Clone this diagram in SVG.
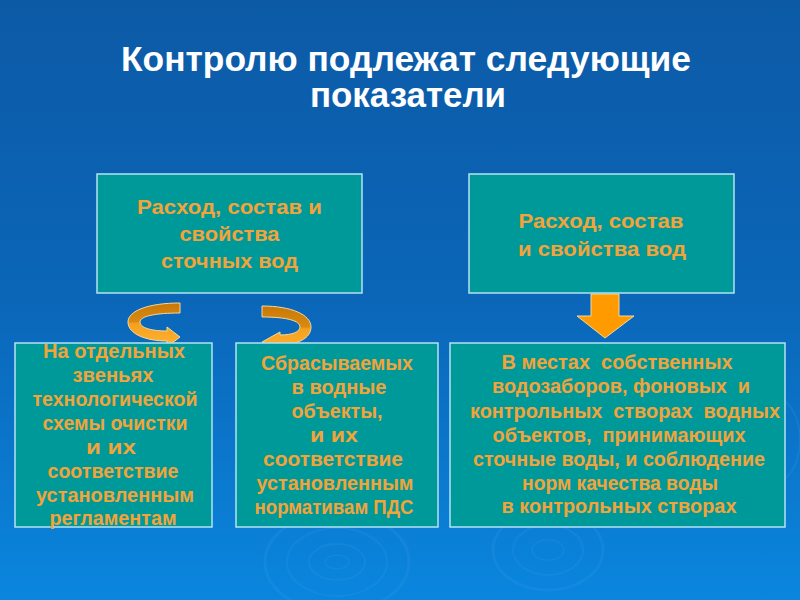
<svg xmlns="http://www.w3.org/2000/svg" width="800" height="600" viewBox="0 0 800 600">
<defs>
<linearGradient id="bg" x1="0" y1="0" x2="0" y2="1">
<stop offset="0" stop-color="#0C5AA6"/>
<stop offset="0.5" stop-color="#0B66B8"/>
<stop offset="1" stop-color="#0A86DE"/>
</linearGradient>
<linearGradient id="cl" gradientUnits="userSpaceOnUse" x1="0" y1="303" x2="0" y2="347">
<stop offset="0" stop-color="#C97806"/>
<stop offset="0.42" stop-color="#D98A12"/>
<stop offset="0.47" stop-color="#F5A11E"/>
<stop offset="1" stop-color="#FFB232"/>
</linearGradient>
<linearGradient id="cr" gradientUnits="userSpaceOnUse" x1="0" y1="306" x2="0" y2="352">
<stop offset="0" stop-color="#C97806"/>
<stop offset="0.45" stop-color="#D98A12"/>
<stop offset="0.5" stop-color="#F5A11E"/>
<stop offset="1" stop-color="#FFB232"/>
</linearGradient>
<style>
.box{fill:#009999;stroke:#B4E2F2;stroke-width:1.5}
.t{font-family:"Liberation Sans",Arial,sans-serif;font-weight:bold;fill:#F2A33A;text-anchor:middle;white-space:pre}
.top{font-size:21px}
.bot{font-size:20px}
.title{font-family:"Liberation Sans",Arial,sans-serif;font-weight:bold;fill:#FFFFFF;font-size:35px;text-anchor:middle}
.arr{stroke:#F3D9A0;stroke-width:1;stroke-linejoin:round}
.rip{fill:none;stroke:#3FA0EA;stroke-opacity:0.18}
</style>
</defs>
<rect x="0" y="0" width="800" height="600" fill="url(#bg)"/>
<g id="ripples">
<ellipse class="rip" cx="337" cy="562" rx="72" ry="50" stroke-width="3"/>
<ellipse class="rip" cx="337" cy="562" rx="50" ry="34" stroke-width="2"/>
<ellipse class="rip" cx="337" cy="562" rx="28" ry="18" stroke-width="2"/>
<ellipse class="rip" cx="337" cy="562" rx="12" ry="7" stroke-width="1.5"/>
<ellipse class="rip" cx="548" cy="550" rx="55" ry="40" stroke-width="3"/>
<ellipse class="rip" cx="548" cy="550" rx="35" ry="25" stroke-width="2"/>
<ellipse class="rip" cx="548" cy="550" rx="16" ry="10" stroke-width="1.5"/>
<ellipse class="rip" cx="770" cy="440" rx="30" ry="45" stroke-width="2"/>
</g>
<g id="title">
<text class="title" x="406" y="71" textLength="570" lengthAdjust="spacingAndGlyphs">Контролю подлежат следующие</text>
<text class="title" x="408" y="107" textLength="196" lengthAdjust="spacingAndGlyphs">показатели</text>
</g>
<g id="connectors">
<path class="arr" fill="url(#cl)" d="M180,303 C148,303 128,311 128,322 C128,334 146,341 167,341 L167,347 L180,337 L167,327 L167,331 C152,331 140,328 140,322 C140,316 156,313 180,313 Z"/>
<path class="arr" fill="url(#cr)" d="M262,306 C292,306 311,315 311,327 C311,339 296,345 280,345 L280,352 L262,342 L280,332 L280,335 C292,335 300,332 300,327 C300,321 288,317 262,317 Z"/>
<path class="arr" fill="#FF9A00" d="M591,294 L619,294 L619,316 L634,316 L605,338 L577,316 L591,316 Z"/>
</g>
<g id="node-top-left">
<rect class="box" x="97" y="174" width="265" height="119"/>
<text class="t top" x="229.5" y="214" textLength="185" lengthAdjust="spacingAndGlyphs">Расход, состав и</text>
<text class="t top" x="229.5" y="241" textLength="100" lengthAdjust="spacingAndGlyphs">свойства</text>
<text class="t top" x="229.5" y="268" textLength="137" lengthAdjust="spacingAndGlyphs">сточных вод</text>
</g>
<g id="node-top-right">
<rect class="box" x="469" y="174" width="265" height="119"/>
<text class="t top" x="601" y="228" textLength="165" lengthAdjust="spacingAndGlyphs">Расход, состав</text>
<text class="t top" x="602" y="256" textLength="168" lengthAdjust="spacingAndGlyphs">и свойства вод</text>
</g>
<g id="node-bottom-left">
<rect class="box" x="15" y="343" width="197" height="184"/>
<text class="t bot" x="114" y="358" textLength="142" lengthAdjust="spacingAndGlyphs">На отдельных</text>
<text class="t bot" x="113" y="382" textLength="81" lengthAdjust="spacingAndGlyphs">звеньях</text>
<text class="t bot" x="115" y="406" textLength="165" lengthAdjust="spacingAndGlyphs">технологической</text>
<text class="t bot" x="115" y="430" textLength="145" lengthAdjust="spacingAndGlyphs">схемы очистки</text>
<text class="t bot" x="111" y="454" textLength="50" lengthAdjust="spacingAndGlyphs">и их</text>
<text class="t bot" x="113" y="478" textLength="131" lengthAdjust="spacingAndGlyphs">соответствие</text>
<text class="t bot" x="115" y="502" textLength="158" lengthAdjust="spacingAndGlyphs">установленным</text>
<text class="t bot" x="113" y="525" textLength="127" lengthAdjust="spacingAndGlyphs">регламентам</text>
</g>
<g id="node-bottom-middle">
<rect class="box" x="236" y="343" width="202" height="184"/>
<text class="t bot" x="337" y="370" textLength="152" lengthAdjust="spacingAndGlyphs">Сбрасываемых</text>
<text class="t bot" x="339" y="394" textLength="95" lengthAdjust="spacingAndGlyphs">в водные</text>
<text class="t bot" x="337" y="418" textLength="91" lengthAdjust="spacingAndGlyphs">объекты,</text>
<text class="t bot" x="334" y="442" textLength="48" lengthAdjust="spacingAndGlyphs">и их</text>
<text class="t bot" x="333" y="466" textLength="140" lengthAdjust="spacingAndGlyphs">соответствие</text>
<text class="t bot" x="335" y="490" textLength="157" lengthAdjust="spacingAndGlyphs">установленным</text>
<text class="t bot" x="334" y="514" textLength="159" lengthAdjust="spacingAndGlyphs">нормативам ПДС</text>
</g>
<g id="node-bottom-right">
<rect class="box" x="450" y="343" width="335" height="184"/>
<text class="t bot" x="617" y="369" textLength="231" lengthAdjust="spacingAndGlyphs">В местах  собственных</text>
<text class="t bot" x="621" y="393" textLength="258" lengthAdjust="spacingAndGlyphs">водозаборов, фоновых  и</text>
<text class="t bot" x="625" y="418" textLength="310" lengthAdjust="spacingAndGlyphs">контрольных  створах  водных</text>
<text class="t bot" x="619" y="442" textLength="253" lengthAdjust="spacingAndGlyphs">объектов,  принимающих</text>
<text class="t bot" x="619" y="466" textLength="292" lengthAdjust="spacingAndGlyphs">сточные воды, и соблюдение</text>
<text class="t bot" x="620" y="490" textLength="196" lengthAdjust="spacingAndGlyphs">норм качества воды</text>
<text class="t bot" x="619" y="513" textLength="235" lengthAdjust="spacingAndGlyphs">в контрольных створах</text>
</g>
</svg>
